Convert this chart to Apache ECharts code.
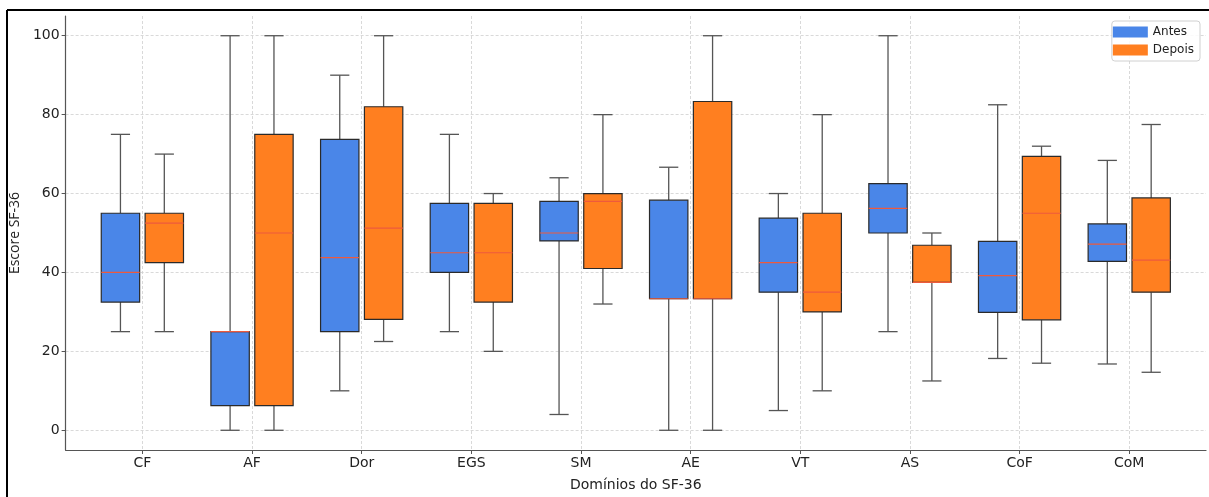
<!DOCTYPE html>
<html>
<head>
<meta charset="utf-8">
<script src="https://cdn.jsdelivr.net/npm/echarts@6/dist/echarts.min.js"></script>
<style>
html, body {margin: 0; padding: 0; background: #fff;}
#chart {width: 1209px; height: 497px;}
</style>
</head>
<body>
<div id="chart"></div>
<script>
// domínios do SF-36
var domains = ['CF', 'AF', 'Dor', 'EGS', 'SM', 'AE', 'VT', 'AS', 'CoF', 'CoM'];
// [min, Q1, mediana, Q3, max] por domínio
var antes = [
    [25, 32.5, 40, 55, 75],
    [0, 6.25, 25, 25, 100],
    [10, 25, 43.75, 73.75, 90],
    [25, 40, 45, 57.5, 75],
    [4, 48, 50, 58, 64],
    [0, 33.33, 33.33, 58.33, 66.67],
    [5, 35, 42.5, 53.75, 60],
    [25, 50, 56.25, 62.5, 100],
    [18.2, 29.9, 39.2, 47.9, 82.5],
    [16.8, 42.8, 47.2, 52.3, 68.4]
];
var depois = [
    [25, 42.5, 52.5, 55, 70],
    [0, 6.25, 50, 75, 100],
    [22.5, 28.1, 51.25, 82, 100],
    [20, 32.5, 45, 57.5, 60],
    [32, 41, 58, 60, 80],
    [0, 33.33, 33.33, 83.33, 100],
    [10, 30, 35, 55, 80],
    [12.5, 37.5, 37.5, 46.9, 50],
    [17, 28, 55, 69.4, 72],
    [14.7, 35, 43.1, 58.9, 77.5]
];
var yTicks = [0, 20, 40, 60, 80, 100];
var xTicks = [1, 2, 3, 4, 5, 6, 7, 8, 9, 10];

var BLUE = '#4a86e8', ORANGE = '#ff7f20';
var BOX_W = 0.35;

function toData(stats, shift) {
    return stats.map(function (s, i) {
        return [i + 1 + shift].concat(s);
    });
}

function renderBox(params, api) {
    var x = api.value(0);
    var lo = api.coord([x, api.value(1)]);
    var q1 = api.coord([x, api.value(2)]);
    var md = api.coord([x, api.value(3)]);
    var q3 = api.coord([x, api.value(4)]);
    var hi = api.coord([x, api.value(5)]);
    var w = api.size([BOX_W, 0])[0];
    var cx = lo[0];
    var cap = w / 4;
    var wStyle = {stroke: '#555', lineWidth: 1.3};
    return {
        type: 'group',
        children: [
            {type: 'line', shape: {x1: cx, y1: lo[1], x2: cx, y2: q1[1]}, style: wStyle},
            {type: 'line', shape: {x1: cx, y1: q3[1], x2: cx, y2: hi[1]}, style: wStyle},
            {type: 'line', shape: {x1: cx - cap, y1: lo[1], x2: cx + cap, y2: lo[1]}, style: wStyle},
            {type: 'line', shape: {x1: cx - cap, y1: hi[1], x2: cx + cap, y2: hi[1]}, style: wStyle},
            {type: 'rect', shape: {x: cx - w / 2, y: q3[1], width: w, height: q1[1] - q3[1]},
                style: {fill: api.visual('color'), stroke: '#2a2a2a', lineWidth: 1.2}},
            {type: 'line', shape: {x1: cx - w / 2, y1: md[1], x2: cx + w / 2, y2: md[1]},
                style: {stroke: '#ee5a3c', lineWidth: 1.2}}
        ]
    };
}

var chart = echarts.init(document.getElementById('chart'));
var font = 'DejaVu Sans';
chart.setOption({
    animation: false,
    textStyle: {fontFamily: font},
    grid: {left: 65, right: 3, top: 16, bottom: 45, containLabel: false},
    legend: {
        orient: 'vertical', right: 9, top: 21,
        itemWidth: 35, itemHeight: 11, itemGap: 6,
        padding: [5, 6, 5, 1],
        borderColor: '#d0d0d0', borderWidth: 1, borderRadius: 3,
        backgroundColor: 'rgba(255,255,255,0.85)',
        textStyle: {fontSize: 12, color: '#222', fontFamily: font},
        data: [{name: 'Antes', icon: 'rect'}, {name: 'Depois', icon: 'rect'}]
    },
    xAxis: {
        type: 'value', min: 0.3, max: 10.7,
        name: 'Domínios do SF-36', nameLocation: 'middle', nameGap: 28,
        nameTextStyle: {fontSize: 14, color: '#222'},
        axisLine: {onZero: false, lineStyle: {color: '#555', width: 1.2}},
        axisTick: {show: true, inside: false, length: 4, customValues: xTicks, lineStyle: {color: '#555'}},
        axisLabel: {customValues: xTicks, fontSize: 14, color: '#222', margin: 6,
            formatter: function (v) { return domains[Math.round(v) - 1] || ''; }},
        splitLine: {show: true, lineStyle: {color: '#cfcfcf', type: [3, 2], width: 0.8}}
    },
    yAxis: {
        type: 'value', min: -5, max: 105,
        name: 'Escore SF-36', nameLocation: 'middle', nameGap: 42,
        nameTextStyle: {fontSize: 14, color: '#222', fontFamily: 'Open Sans'},
        axisLine: {show: true, onZero: false, lineStyle: {color: '#555', width: 1.2}},
        axisTick: {show: true, inside: false, length: 4, customValues: yTicks, lineStyle: {color: '#555'}},
        axisLabel: {customValues: yTicks, fontSize: 14, color: '#222', margin: 6},
        splitLine: {show: true, lineStyle: {color: '#cfcfcf', type: [3, 2], width: 0.8}}
    },
    graphic: [
        {type: 'line', shape: {x1: 7, y1: 10, x2: 1209, y2: 10}, style: {stroke: '#000', lineWidth: 2}},
        {type: 'line', shape: {x1: 7, y1: 10, x2: 7, y2: 497}, style: {stroke: '#000', lineWidth: 2}}
    ],
    series: [
        {name: 'Antes', type: 'custom', renderItem: renderBox, itemStyle: {color: BLUE},
            encode: {x: 0, y: [1, 2, 3, 4, 5]}, data: toData(antes, -0.2)},
        {name: 'Depois', type: 'custom', renderItem: renderBox, itemStyle: {color: ORANGE},
            encode: {x: 0, y: [1, 2, 3, 4, 5]}, data: toData(depois, 0.2)}
    ]
});
</script>
</body>
</html>
